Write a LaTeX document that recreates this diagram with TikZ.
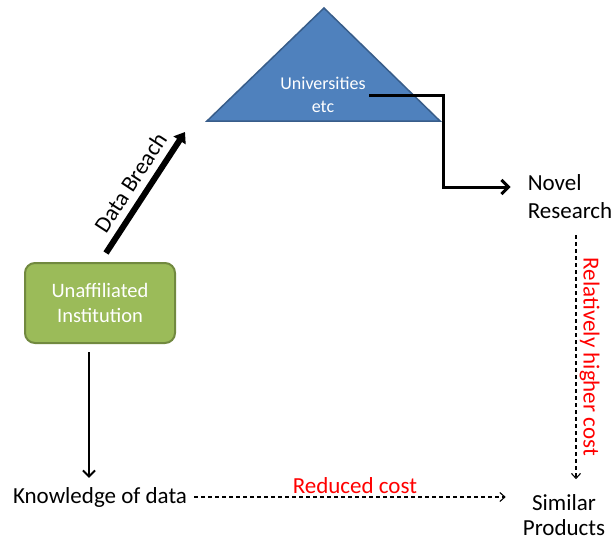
\documentclass[tikz,border=0pt]{standalone}
\usepackage{fontspec}
\setmainfont{Carlito}
\usetikzlibrary{arrows.meta}

\definecolor{uniblue}{HTML}{4F81BD}
\definecolor{uniedge}{HTML}{385D8A}
\definecolor{instgreen}{HTML}{9BBB59}
\definecolor{instedge}{HTML}{71893F}

\begin{document}
\begin{tikzpicture}[
            x = 1pt,
            y = -1pt,
            txt/.style = {
                font = \fontsize{23}{#1}\selectfont,
                align = center,
                inner sep = 3pt
            },
            txt/.default = 27,
            costtxt/.style = {
                text = red,
                font = \fontsize{23}{27}\selectfont,
                inner sep = 3pt
            },
            instbox/.style = {
                draw = instedge,
                fill = instgreen,
                line width = 2pt,
                rounded corners = 10pt,
                minimum width = 150pt,
                minimum height = 80pt,
                text = white,
                align = center,
                font = \fontsize{20.5}{25}\selectfont
            },
            dasharrow/.style = {
                -{Straight Barb[length=5pt,width=9pt]},
                dash pattern = on 4pt off 3pt,
                line width = 1.1pt
            }
            ]
            \useasboundingbox (0,0) rectangle (614,544);

            % the triangle of universities
            \coordinate (tri top) at (324,8);
            \coordinate (tri l) at (207,121);
            \coordinate (tri r) at (440,121);
            \filldraw[fill=uniblue, draw=uniedge, line width=1.5pt] (tri top) -- (tri l) -- (tri r) -- cycle;
            \node[text=white, align=center, font=\fontsize{18}{23}\selectfont] (uni) at (323,95) {Universities\\etc};

            \node[instbox] (inst) at (100,303) {Unaffiliated\\Institution};
            \node[txt] (know) at (100,497) {Knowledge of data};
            \node[txt=28, align=left] (novel) at (570,197) {Novel\\Research};
            \node[txt=25] (similar) at (564,515) {Similar\\Products};

            \coordinate (breach) at (185,132);
            \coordinate (bend) at (443,187);
            \coordinate (hi top) at ([xshift=6pt]novel.south);

            % arrows
            \draw[line width=6pt, -{Triangle[length=10pt,width=14pt]}]
                ([shift={(6,-9)}]inst.north) -- node[txt, sloped, above=4pt] {Data Breach} (breach);
            \draw[line width=3pt, -{Straight Barb[length=7pt,width=14pt]}, shorten >=14pt]
                (uni.east) -| (bend) -- (bend -| novel.west);
            \draw[line width=2pt, -{Straight Barb[length=6pt,width=12pt]}]
                ([xshift=-11pt,yshift=-8pt]inst.south) -- ([xshift=-11pt,yshift=6pt]know.north);
            \draw[dasharrow, shorten <=4pt, shorten >=14pt]
                (know.east) -- node[costtxt, above=0pt] {Reduced cost} (know.east -| similar.west);
            \draw[dasharrow, shorten <=13pt, shorten >=12pt]
                (hi top) -- node[costtxt, sloped, above] {Relatively higher cost} (hi top |- similar.north);
        \end{tikzpicture}
\end{document}
